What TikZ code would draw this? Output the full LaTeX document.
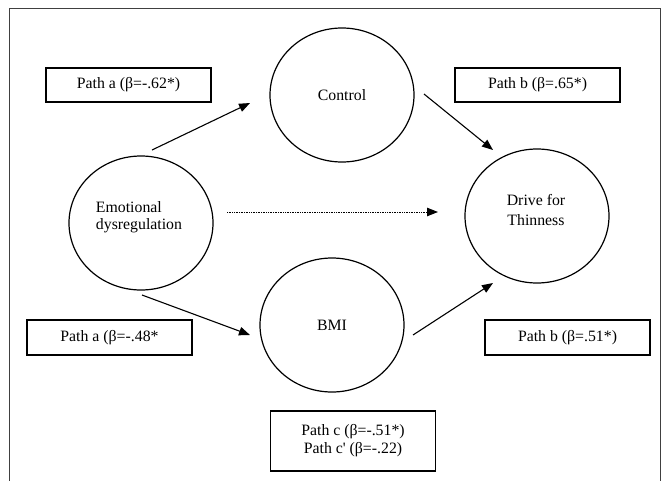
\documentclass[tikz,border=0pt]{standalone}
\usepackage{fontspec}
\setmainfont{Liberation Serif}[Ligatures=TeXOff]
\usetikzlibrary{shapes.geometric,arrows.meta}
\tikzset{
  x=1pt,y=-1pt,
  circ/.style={draw,ellipse,line width=1.2pt,minimum width=144pt,minimum height=134pt,inner sep=0pt,font=\fontsize{15.8}{18}\selectfont},
  pbox/.style={draw,line width=1.2pt,minimum width=165pt,minimum height=34pt,inner sep=0pt,font=\fontsize{15.8}{18}\selectfont,align=center},
  arr/.style={line width=1.1pt,-{Triangle[length=11pt,width=8.5pt]}},
  dotarr/.style={line width=1pt,dash pattern=on 0.8pt off 0.9pt,-{Triangle[length=11pt,width=8.5pt]}}
}
\begin{document}
\begin{tikzpicture}
\useasboundingbox (0,0) rectangle (669,480);
\draw[black!75,line width=1pt] (9,490) -- (9,8) -- (660,8) -- (660,490);

\node[circ] (ctrl) at (342,95) {Control};
\node[circ] (emo) at (141,223) {};
\node[font=\fontsize{15.8}{17}\selectfont,align=left] (emotxt) at (139,217) {Emotional\\dysregulation};
\node[circ] (drive) at (537,216) {};
\node[font=\fontsize{15.8}{20}\selectfont,align=center] (drivetxt) at (536,210) {Drive for\\Thinness};
\node[circ] (bmi) at (332,325) {BMI};

\node[pbox] (pa1) at (128.5,85) {Path a (β=-.62*)};
\node[pbox] (pb1) at (537.5,85) {Path b (β=.65*)};
\node[pbox,minimum height=35pt] (pa2) at (109.5,337.5) {Path a (β=-.48*};
\node[pbox,minimum height=35pt] (pb2) at (567.5,337.5) {Path b (β=.51*)};
\node[pbox,minimum height=60pt,font=\fontsize{15.8}{18}\selectfont] (pc) at (353,441) {Path c (β=-.51*)\\Path c' (β=-.22)};

\coordinate (e1s) at (152,150);
\coordinate (e1t) at (250,103);
\coordinate (c1s) at (424,94);
\coordinate (c1t) at (493,150);
\coordinate (ds) at (227,212);
\coordinate (dt) at (438,212);
\coordinate (e2s) at (142,295);
\coordinate (e2t) at (250,335);
\coordinate (b2s) at (413,335);
\coordinate (b2t) at (493,283);

\draw[arr] (e1s) -- (e1t);
\draw[arr] (c1s) -- (c1t);
\draw[dotarr] (ds) -- (dt);
\draw[arr] (e2s) -- (e2t);
\draw[arr] (b2s) -- (b2t);
\end{tikzpicture}
\end{document}
